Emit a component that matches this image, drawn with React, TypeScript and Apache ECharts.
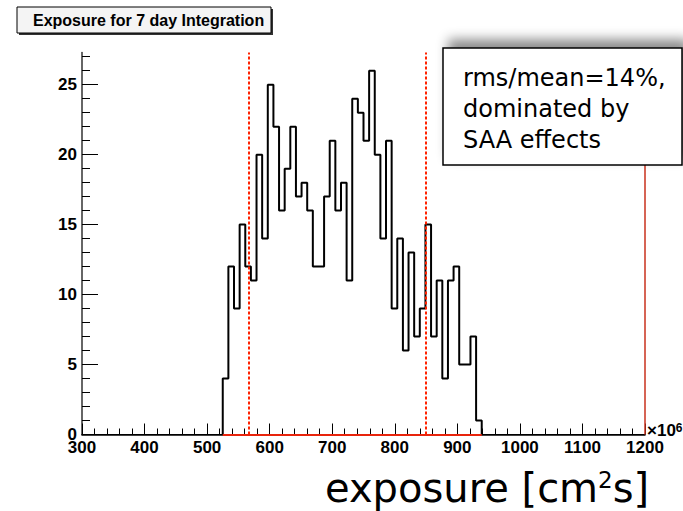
import React, { useEffect, useRef } from 'react';
import * as echarts from 'echarts';

// Histogram bins (lower edges, in units of 10^6 cm^2 s) and counts
const binLow = [525, 534, 543, 552, 561, 570, 579, 588, 597, 606, 615, 624, 633, 642, 651, 660, 669, 678, 687, 696, 705, 714, 723, 732, 741, 750, 759, 768, 777, 786, 795, 804, 813, 822, 831, 840, 849, 858, 867, 876, 885, 894, 903, 912, 921, 930];
const binWidth = 9;
const counts = [4, 12, 9, 15, 12, 11, 20, 14, 25, 22, 16, 19, 22, 17, 18, 16, 12, 12, 17, 21, 16, 18, 11, 24, 23, 21, 26, 20, 14, 21, 9, 14, 6, 13, 7, 9, 15, 7, 11, 4, 11, 12, 5, 5, 7, 1];

// Cut lines
const cutLines = [567, 849];

// Axis ranges / ticks
const xMin = 300;
const xMax = 1200;
const xInterval = 100;
const yMin = 0;
const yMax = 27.3;
const yMajorTicks = [0, 5, 10, 15, 20, 25];
const yMinorTicks = [1, 2, 3, 4, 6, 7, 8, 9, 11, 12, 13, 14, 16, 17, 18, 19, 21, 22, 23, 24, 26, 27];

const titleText = 'Exposure for 7 day Integration';
const noteLines = ['rms/mean=14%,', 'dominated by', 'SAA effects'];

export default function App() {
  const ref = useRef<HTMLDivElement>(null);

  useEffect(() => {
    if (!ref.current) return;
    const chart = echarts.init(ref.current, null, { renderer: 'svg' });

    const pts: number[][] = [];
    pts.push([binLow[0], 0]);
    for (let i = 0; i < binLow.length; i++) {
      pts.push([binLow[i], counts[i]]);
      pts.push([binLow[i] + binWidth, counts[i]]);
    }
    const histEnd = binLow[binLow.length - 1] + binWidth;
    pts.push([histEnd, 0]);

    const labelFont = {
      fontFamily: 'Liberation Sans, Arial, sans-serif',
      fontWeight: 'bold' as const,
      fontSize: 17,
      color: '#000',
    };

    const option: any = {
      animation: false,
      backgroundColor: '#ffffff',
      grid: { left: 82, right: 38, top: 52.5, bottom: 76.5, containLabel: false },
      xAxis: [
        {
          type: 'value',
          min: xMin,
          max: xMax,
          interval: xInterval,
          axisLine: { show: true, lineStyle: { color: '#000', width: 1.5 } },
          axisTick: { show: true, inside: true, length: 11, lineStyle: { color: '#000', width: 1 } },
          minorTick: { show: true, splitNumber: 5, length: 6, lineStyle: { color: '#000', width: 1 } },
          axisLabel: { ...labelFont, margin: 6, lineHeight: 14, formatter: (v: number) => String(v) },
          splitLine: { show: false },
          minorSplitLine: { show: false },
        },
        {
          type: 'value',
          position: 'top',
          min: xMin,
          max: xMax,
          axisLine: { show: true, lineStyle: { color: '#000', width: 1 } },
          axisTick: { show: false },
          axisLabel: { show: false },
          splitLine: { show: false },
        },
      ],
      yAxis: [
        {
          type: 'value',
          min: yMin,
          max: yMax,
          axisLine: { show: true, lineStyle: { color: '#333', width: 1.5 } },
          axisTick: { show: true, inside: true, length: 16, customValues: yMajorTicks, lineStyle: { color: '#000', width: 1 } },
          axisLabel: { ...labelFont, margin: 5, lineHeight: 12, customValues: yMajorTicks },
          splitLine: { show: false },
        },
        {
          type: 'value',
          min: yMin,
          max: yMax,
          position: 'left',
          axisLine: { show: false },
          axisTick: { show: true, inside: true, length: 8, customValues: yMinorTicks, lineStyle: { color: '#000', width: 1 } },
          axisLabel: { show: false },
          splitLine: { show: false },
        },
      ],
      series: [
        {
          type: 'line',
          xAxisIndex: 0,
          yAxisIndex: 0,
          data: pts,
          symbol: 'none',
          lineStyle: { color: '#000', width: 2 },
          z: 3,
          markLine: {
            silent: true,
            symbol: ['none', 'none'],
            label: { show: false },
            animation: false,
            data: [
              ...cutLines.map((c) => [
                { coord: [c, yMin], lineStyle: { color: '#ff2200', type: [3, 2], width: 2 } },
                { coord: [c, yMax] },
              ]),
              [
                { coord: [binLow[0], 0], lineStyle: { color: '#e8240c', type: 'solid', width: 2 } },
                { coord: [histEnd, 0] },
              ],
              [
                { coord: [xMax, 0], lineStyle: { color: '#c8301c', type: 'solid', width: 1.5 } },
                { coord: [xMax, yMax] },
              ],
            ],
          },
        },
      ],
      graphic: [
        { type: 'rect', shape: { x: 19, y: 9, width: 254, height: 26 }, style: { fill: '#333' }, z: 10 },
        { type: 'rect', shape: { x: 17, y: 7, width: 254, height: 26 }, style: { fill: '#f4f4f4', stroke: '#000', lineWidth: 1 }, z: 11 },
        {
          type: 'text', x: 33, y: 20, z: 12,
          style: { text: titleText, fontFamily: 'Liberation Sans, Arial, sans-serif', fontWeight: 'bold', fontSize: 16, fill: '#000', verticalAlign: 'middle' },
        },
        {
          type: 'rect', shape: { x: 443, y: 48, width: 239, height: 117 }, z: 20,
          style: { fill: '#fff', stroke: '#000', lineWidth: 1.5, shadowBlur: 12, shadowColor: 'rgba(0,0,0,0.45)', shadowOffsetX: 6, shadowOffsetY: -8 },
        },
        {
          type: 'text', x: 463, y: 62, z: 21,
          style: { text: noteLines.join('\n'), fontFamily: 'DejaVu Sans, sans-serif', fontSize: 24, lineHeight: 31, fill: '#000', verticalAlign: 'top' },
        },
        {
          type: 'text', x: 647, y: 430, z: 21,
          style: {
            text: '{a|×10}{b|6}',
            verticalAlign: 'middle',
            rich: {
              a: { fontFamily: 'Liberation Sans, Arial, sans-serif', fontWeight: 'bold', fontSize: 17, fill: '#000' },
              b: { fontFamily: 'Liberation Sans, Arial, sans-serif', fontWeight: 'bold', fontSize: 12, fill: '#000', verticalAlign: 'top' },
            },
          },
        },
        {
          type: 'text', x: 325, y: 488, z: 21,
          style: {
            text: '{a|exposure [cm}{s|2}{a|s]}',
            verticalAlign: 'middle',
            rich: {
              a: { fontFamily: 'DejaVu Sans, sans-serif', fontSize: 40, fill: '#000' },
              s: { fontFamily: 'DejaVu Sans, sans-serif', fontSize: 23, fill: '#000', verticalAlign: 'top' },
            },
          },
        },
      ],
    };

    chart.setOption(option);
    return () => chart.dispose();
  }, []);

  return <div ref={ref} style={{ position: 'absolute', left: 0, top: 0, width: 683, height: 511 }} />;
}
